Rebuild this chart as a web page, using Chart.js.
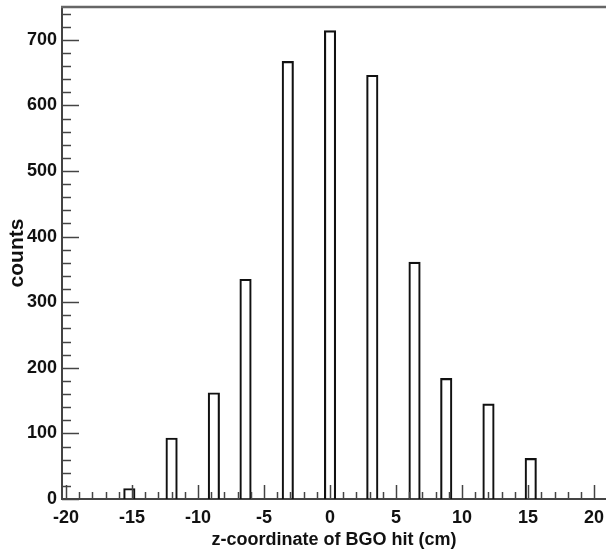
<!DOCTYPE html>
<html>
<head>
<meta charset="utf-8">
<script src="https://cdn.jsdelivr.net/npm/chart.js@4/dist/chart.umd.min.js"></script>
<style>
html,body{margin:0;padding:0;background:#fff;}
#c{display:block;}
</style>
</head>
<body>
<canvas id="c" width="606" height="553"></canvas>
<script>
// Data
const zPositions = [-15.2, -12.0, -8.8, -6.4, -3.2, 0.0, 3.2, 6.4, 8.8, 12.0, 15.2];
const counts     = [16, 93, 162, 335, 667, 714, 646, 361, 184, 145, 62];
const xTickLabels = [-20, -15, -10, -5, 0, 5, 10, 15, 20];
const yTickLabels = [0, 100, 200, 300, 400, 500, 600, 700];

const points = zPositions.map((x, i) => ({x: x, y: counts[i]}));

const FONT = "'Liberation Sans', Arial, Helvetica, sans-serif";

const frameTicks = {
  id: 'frameTicks',
  afterDatasetsDraw(chart) {
    const ctx = chart.ctx;
    const xs = chart.scales.x, ys = chart.scales.y;
    const a = chart.chartArea;
    ctx.save();
    ctx.strokeStyle = '#444';
    ctx.lineWidth = 1.5;
    // x ticks (inward)
    for (let v = Math.ceil(xs.min); v <= xs.max; v += 1) {
      const px = Math.round(xs.getPixelForValue(v)) + 0.5;
      const len = (v % 5 === 0) ? 14 : 7;
      ctx.beginPath();
      ctx.moveTo(px, a.bottom);
      ctx.lineTo(px, a.bottom - len);
      ctx.stroke();
    }
    // y ticks (inward)
    for (let v = 0; v <= ys.max; v += 20) {
      const py = Math.round(ys.getPixelForValue(v)) + 0.5;
      const len = (v % 100 === 0) ? 17 : 9;
      ctx.beginPath();
      ctx.moveTo(a.left, py);
      ctx.lineTo(a.left + len, py);
      ctx.stroke();
    }
    // top frame line
    ctx.strokeStyle = '#666';
    ctx.lineWidth = 2.5;
    ctx.beginPath();
    ctx.moveTo(a.left - 1, a.top);
    ctx.lineTo(chart.width, a.top);
    ctx.stroke();
    ctx.restore();
  }
};

new Chart(document.getElementById('c'), {
  type: 'bar',
  data: {
    datasets: [{
      data: points,
      backgroundColor: 'rgba(255,255,255,0)',
      borderColor: '#111',
      borderWidth: 1.5,
      borderSkipped: 'bottom',
      barThickness: 11.5,
      grouped: false
    }]
  },
  options: {
    responsive: false,
    animation: false,
    events: [],
    layout: {padding: {top: 7, right: 0, left: 0, bottom: 0}},
    plugins: {legend: {display: false}, tooltip: {enabled: false}},
    scales: {
      x: {
        type: 'linear',
        offset: false,
        min: -20.3,
        max: 20.9,
        afterBuildTicks(s) { s.ticks = xTickLabels.map(v => ({value: v})); },
        afterFit(s) { s.height = 54; s.paddingLeft = 0; s.paddingRight = 0; },
        grid: {display: false, drawTicks: false, offset: false},
        border: {display: true, color: '#444', width: 2},
        ticks: {
          padding: 8,
          color: '#111',
          font: {family: FONT, size: 18, weight: 'bold'},
          maxRotation: 0,
          autoSkip: false
        },
        title: {
          display: true,
          text: 'z-coordinate of BGO hit (cm)',
          color: '#111',
          font: {family: FONT, size: 18, weight: 'bold'},
          padding: {top: 0, bottom: 2}
        }
      },
      y: {
        type: 'linear',
        min: 0,
        max: 750,
        afterBuildTicks(s) { s.ticks = yTickLabels.map(v => ({value: v})); },
        afterFit(s) { s.width = 62; s.paddingTop = 0; s.paddingBottom = 0; },
        grid: {display: false, drawTicks: false},
        border: {display: true, color: '#444', width: 2},
        ticks: {
          padding: 5,
          color: '#111',
          font: {family: FONT, size: 18, weight: 'bold'}
        },
        title: {
          display: true,
          text: 'counts',
          color: '#111',
          font: {family: FONT, size: 21, weight: 'bold'},
          padding: {top: 5, bottom: 0}
        }
      }
    }
  },
  plugins: [frameTicks]
});
</script>
</body>
</html>
